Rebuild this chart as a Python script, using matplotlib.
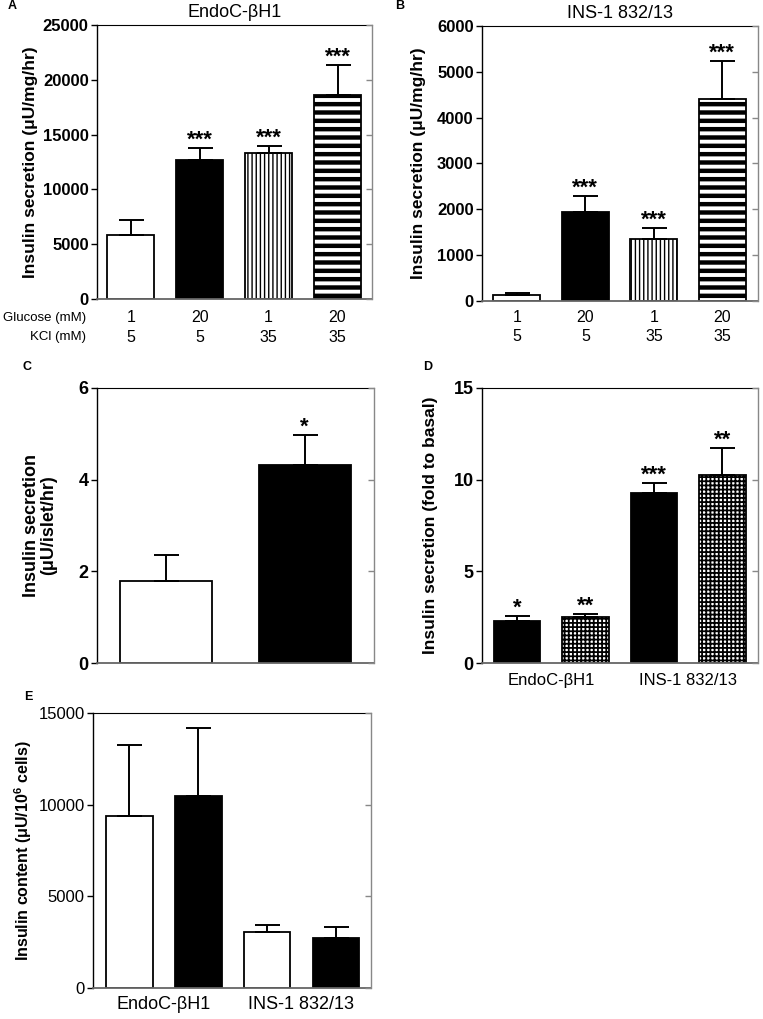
"""
Insulin secretion / content bar panels (A-E)
"""

import matplotlib
matplotlib.use("Agg")
import matplotlib.pyplot as plt
import numpy as np

plt.rcParams["font.family"] = ["Liberation Sans", "DejaVu Sans"]
plt.rcParams["mathtext.default"] = "regular"
NARROW = ["Liberation Sans Narrow", "Liberation Sans", "DejaVu Sans"]

W, H = 763, 1019

# ---- data ----
glucose_mM = ["1", "20", "1", "20"]
kcl_mM = ["5", "5", "35", "35"]
cell_lines = ["EndoC-βH1", "INS-1 832/13"]

# A: EndoC-bH1 secretion (uU/mg/hr)
endoc_secretion = [5800, 12700, 13300, 18650]
endoc_secretion_sem = [1400, 1050, 700, 2700]
endoc_stars = ["", "***", "***", "***"]

# B: INS-1 832/13 secretion (uU/mg/hr)
ins1_secretion = [140, 1950, 1360, 4410]
ins1_secretion_sem = [30, 340, 230, 820]
ins1_stars = ["", "***", "***", "***"]

# C: human islets (uU/islet/hr)
islet_secretion = [1.80, 4.33]
islet_secretion_sem = [0.56, 0.64]
islet_stars = ["", "*"]

# D: fold to basal
fold_secretion = [2.29, 2.51, 9.30, 10.28]
fold_secretion_sem = [0.26, 0.16, 0.52, 1.47]
fold_stars = ["*", "**", "***", "**"]

# E: insulin content (uU/10^6 cells)
insulin_content = [9390, 10500, 3030, 2730]
insulin_content_sem = [3840, 3660, 400, 610]

# bar fill styles
STYLE = {
    "white": dict(facecolor="white", hatch=None, hlw=1.0),
    "black": dict(facecolor="black", hatch=None, hlw=1.0),
    "vstripe": dict(facecolor="white", hatch="||||", hlw=1.0),
    "hstripe": dict(facecolor="white", hatch="--", hlw=3.2),
    "checker": dict(facecolor="white", hatch="++++", hlw=1.3),
}


def px_axes(left, top, right, bottom):
    """pixel box -> figure fraction rect"""
    return [left / W, 1 - bottom / H, (right - left) / W, (bottom - top) / H]


def draw_bars(ax, vals, sems, styles, width, stars, star_size=16):
    x = np.arange(len(vals))
    for xi, v, st in zip(x, vals, styles):
        s = STYLE[st]
        b = ax.bar(xi, v, width=width, facecolor=s["facecolor"], edgecolor="black",
                   linewidth=1.3, hatch=s["hatch"], zorder=2)[0]
        if hasattr(b, "set_hatch_linewidth"):
            b.set_hatch_linewidth(s["hlw"])
    ax.errorbar(x, vals, yerr=[np.zeros(len(vals)), sems], fmt="none", ecolor="black",
                elinewidth=1.4, capsize=9, capthick=1.4, zorder=3)
    for xi, v, e, s in zip(x, vals, sems, stars):
        if s:
            ax.annotate(s, xy=(xi, v + e), xytext=(0, 1.5), textcoords="offset points",
                        ha="center", va="baseline", fontsize=star_size, fontweight="bold")


def frame(ax, yticks, tick_font, tick_size, tick_weight):
    ax.set_yticks(yticks)
    ax.set_ylim(yticks[0], yticks[-1])
    ax.tick_params(axis="y", direction="out", length=4, width=1, pad=2)
    for lab in ax.get_yticklabels():
        lab.set_family(tick_font)
        lab.set_fontsize(tick_size)
        lab.set_fontweight(tick_weight)
    ax.spines["left"].set_color("black")
    ax.spines["left"].set_linewidth(1.0)
    ax.spines["top"].set_color("black")
    ax.spines["top"].set_linewidth(0.8)
    ax.spines["bottom"].set_color("#666666")
    ax.spines["bottom"].set_linewidth(1.3)
    ax.spines["right"].set_visible(False)
    # right spine with inward ticks
    tw = ax.twinx()
    tw.set_ylim(ax.get_ylim())
    tw.set_yticks(yticks)
    tw.tick_params(axis="y", direction="in", length=4, width=1, colors="#888888",
                   labelright=False)
    for s in ["left", "top", "bottom"]:
        tw.spines[s].set_visible(False)
    tw.spines["right"].set_color("#888888")
    tw.spines["right"].set_linewidth(1.0)


fig = plt.figure(figsize=(W / 100, H / 100), dpi=100)

# ---- A ----
axA = fig.add_axes(px_axes(97, 25, 372, 299))
draw_bars(axA, endoc_secretion, endoc_secretion_sem,
          ["white", "black", "vstripe", "hstripe"], 0.68, endoc_stars)
axA.set_xlim(-0.49, 3.5)
axA.set_xticks([])
frame(axA, np.arange(0, 25001, 5000), ["Liberation Sans"], 12, "bold")
axA.set_title(cell_lines[0], fontsize=13, pad=6)
axA.set_ylabel("Insulin secretion (μU/mg/hr)", fontsize=12.5, fontweight="bold")
axA.yaxis.set_label_coords(-0.215, 0.5)

# ---- B ----
axB = fig.add_axes(px_axes(482, 26, 758, 301))
draw_bars(axB, ins1_secretion, ins1_secretion_sem,
          ["white", "black", "vstripe", "hstripe"], 0.686, ins1_stars)
axB.set_xlim(-0.51, 3.52)
axB.set_xticks([])
frame(axB, np.arange(0, 6001, 1000), ["Liberation Sans"], 12, "bold")
axB.set_title(cell_lines[1], fontsize=13, pad=6)
axB.set_ylabel("Insulin secretion (μU/mg/hr)", fontsize=12.5, fontweight="bold")
axB.yaxis.set_label_coords(-0.203, 0.5)

# condition rows under A and B
for ax, bot, hgt in [(axA, 299, 274), (axB, 301, 275)]:
    tr = ax.get_xaxis_transform()
    for row_y, vals in [(318, glucose_mM), (337, kcl_mM)]:
        yf = (bot - row_y) / hgt
        for i, v in enumerate(vals):
            ax.text(i, yf, v, transform=tr, ha="center", va="center",
                    family=NARROW, fontsize=11.5)
fig.text(86 / W, 1 - 318 / H, "Glucose (mM)", ha="right", va="center", family=NARROW, fontsize=9.5)
fig.text(86 / W, 1 - 337 / H, "KCl (mM)", ha="right", va="center", family=NARROW, fontsize=9.5)

# ---- C ----
axC = fig.add_axes(px_axes(97, 388, 374, 663))
draw_bars(axC, islet_secretion, islet_secretion_sem, ["white", "black"], 0.665, islet_stars)
axC.set_xlim(-0.5, 1.5)
axC.set_xticks([])
frame(axC, np.arange(0, 7, 2), NARROW, 13, "bold")
axC.set_ylabel("Insulin secretion\n(μU/islet/hr)", fontsize=13, fontweight="bold",
               linespacing=1.0)
axC.yaxis.set_label_coords(-0.145, 0.5)

# ---- D ----
axD = fig.add_axes(px_axes(482, 388, 758, 663))
draw_bars(axD, fold_secretion, fold_secretion_sem,
          ["black", "checker", "black", "checker"], 0.68, fold_stars)
axD.set_xlim(-0.51, 3.52)
axD.set_xticks([0.5, 2.5])
axD.set_xticklabels(cell_lines, family=NARROW, fontsize=12)
axD.tick_params(axis="x", length=0, pad=7)
frame(axD, np.arange(0, 16, 5), NARROW, 13, "bold")
axD.set_ylabel("Insulin secretion (fold to basal)", fontsize=12.5, fontweight="bold")
axD.yaxis.set_label_coords(-0.16, 0.5)

# ---- E ----
axE = fig.add_axes(px_axes(93, 713, 371, 988))
draw_bars(axE, insulin_content, insulin_content_sem,
          ["white", "black", "white", "black"], 0.68, ["", "", "", ""])
axE.set_xlim(-0.53, 3.51)
axE.set_xticks([0.5, 2.5])
axE.set_xticklabels(cell_lines, fontsize=13)
axE.tick_params(axis="x", length=0, pad=6)
frame(axE, np.arange(0, 15001, 5000), ["Liberation Sans"], 12, "normal")
axE.set_ylabel("Insulin content (μU/10$^6$ cells)", fontsize=11.5, fontweight="bold")
axE.yaxis.set_label_coords(-0.212, 0.5)

# panel letters
for letter, px, py in [("A", 12, 6), ("B", 400, 6), ("C", 27, 367), ("D", 428, 367), ("E", 28, 697)]:
    fig.text(px / W, 1 - py / H, letter, ha="center", va="center", fontsize=9,
             fontweight="bold")

fig.savefig("out.png", dpi=100)
plt.close(fig)
